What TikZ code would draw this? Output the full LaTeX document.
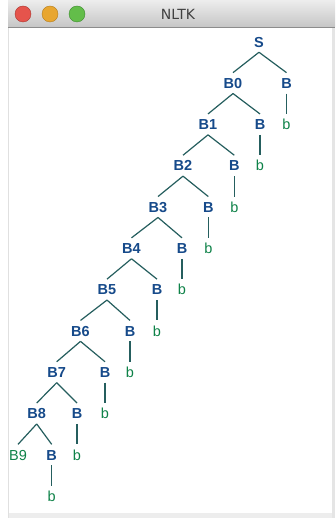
\documentclass[tikz,border=0pt]{standalone}
\usepackage{fontspec}
\setmainfont{Liberation Sans}
\newfontfamily\titlefont{DejaVu Sans}
\usepackage{xcolor}
\usetikzlibrary{positioning}
\definecolor{nodeblue}{HTML}{164A8A}
\definecolor{leafgreen}{HTML}{0E8248}
\definecolor{branchteal}{HTML}{255E5E}
\definecolor{barlight}{HTML}{EDEDED}
\definecolor{bardark}{HTML}{C6C6C6}

\begin{document}
\begin{tikzpicture}[
    x=1pt, y=-1pt,
    treelabel/.style={text=nodeblue, font=\fontsize{14.5}{15}\selectfont\bfseries, inner xsep=2pt, inner ysep=5pt, text height=10.5pt, text depth=0pt},
    treeleaf/.style={text=leafgreen, font=\fontsize{14.5}{15}\selectfont, inner xsep=2pt, inner ysep=5pt, text height=10.5pt, text depth=0pt},
    edgeline/.style={draw=branchteal, line width=1.2pt}
]
\useasboundingbox (0,0) rectangle (335,518);
% window
\fill[white] (0,0) rectangle (335,518);
\shade[top color=barlight, bottom color=bardark] (8,0) rectangle (335,27);
\draw[black!45] (8,27.5) -- (335,27.5);
\fill[black!10] (332,28) rectangle (335,518);
\fill[black!7] (8,513) rectangle (332,518);
\draw[black!12] (8.5,28) -- (8.5,518);
\draw[fill={rgb,255:red,229;green,84;blue,76}, draw={rgb,255:red,170;green,55;blue,50}] (23,14) circle (8pt);
\draw[fill={rgb,255:red,232;green,166;blue,48}, draw={rgb,255:red,180;green,125;blue,30}] (50,14) circle (8pt);
\draw[fill={rgb,255:red,99;green,189;blue,74}, draw={rgb,255:red,62;green,140;blue,48}] (77,14) circle (8pt);
\node[font=\titlefont\fontsize{14}{15}\selectfont, text=black!75] (title) at (178,14) {NLTK};

% tree
\node[treelabel] (S) at (259,41.8) {S};
\node[treelabel] (B0) at (233,83.1) {B0};
\node[treelabel] (R1) at (286.5,83.1) {B};
\node[treeleaf] (L1) at (286.5,124.4) {b};
\node[treelabel] (B1) at (208,124.4) {B1};
\node[treelabel] (R2) at (260,124.4) {B};
\node[treeleaf] (L2) at (260,165.7) {b};
\node[treelabel] (B2) at (183,165.7) {B2};
\node[treelabel] (R3) at (234.3,165.7) {B};
\node[treeleaf] (L3) at (234.3,207) {b};
\node[treelabel] (B3) at (158,207) {B3};
\node[treelabel] (R4) at (208.3,207) {B};
\node[treeleaf] (L4) at (208.3,248.3) {b};
\node[treelabel] (B4) at (131.5,248.3) {B4};
\node[treelabel] (R5) at (182,248.3) {B};
\node[treeleaf] (L5) at (182,289.6) {b};
\node[treelabel] (B5) at (107,289.6) {B5};
\node[treelabel] (R6) at (157,289.6) {B};
\node[treeleaf] (L6) at (157,330.9) {b};
\node[treelabel] (B6) at (80.5,330.9) {B6};
\node[treelabel] (R7) at (130,330.9) {B};
\node[treeleaf] (L7) at (130,372.2) {b};
\node[treelabel] (B7) at (56.7,372.2) {B7};
\node[treelabel] (R8) at (105,372.2) {B};
\node[treeleaf] (L8) at (105,413.5) {b};
\node[treelabel] (B8) at (36.7,413.5) {B8};
\node[treelabel] (R9) at (77,413.5) {B};
\node[treeleaf] (L9) at (77,454.8) {b};
\node[treeleaf] (B9) at (18,454.8) {B9};
\node[treelabel] (R10) at (51.7,454.8) {B};
\node[treeleaf] (L10) at (51.7,496.1) {b};

\draw[edgeline] (S.south) -- (B0.north);
\draw[edgeline] (S.south) -- (R1.north);
\draw[edgeline] (R1.south) -- (L1.north);
\draw[edgeline] (B0.south) -- (B1.north);
\draw[edgeline] (B0.south) -- (R2.north);
\draw[edgeline] (R2.south) -- (L2.north);
\draw[edgeline] (B1.south) -- (B2.north);
\draw[edgeline] (B1.south) -- (R3.north);
\draw[edgeline] (R3.south) -- (L3.north);
\draw[edgeline] (B2.south) -- (B3.north);
\draw[edgeline] (B2.south) -- (R4.north);
\draw[edgeline] (R4.south) -- (L4.north);
\draw[edgeline] (B3.south) -- (B4.north);
\draw[edgeline] (B3.south) -- (R5.north);
\draw[edgeline] (R5.south) -- (L5.north);
\draw[edgeline] (B4.south) -- (B5.north);
\draw[edgeline] (B4.south) -- (R6.north);
\draw[edgeline] (R6.south) -- (L6.north);
\draw[edgeline] (B5.south) -- (B6.north);
\draw[edgeline] (B5.south) -- (R7.north);
\draw[edgeline] (R7.south) -- (L7.north);
\draw[edgeline] (B6.south) -- (B7.north);
\draw[edgeline] (B6.south) -- (R8.north);
\draw[edgeline] (R8.south) -- (L8.north);
\draw[edgeline] (B7.south) -- (B8.north);
\draw[edgeline] (B7.south) -- (R9.north);
\draw[edgeline] (R9.south) -- (L9.north);
\draw[edgeline] (B8.south) -- (B9.north);
\draw[edgeline] (B8.south) -- (R10.north);
\draw[edgeline] (R10.south) -- (L10.north);
\end{tikzpicture}
\end{document}
